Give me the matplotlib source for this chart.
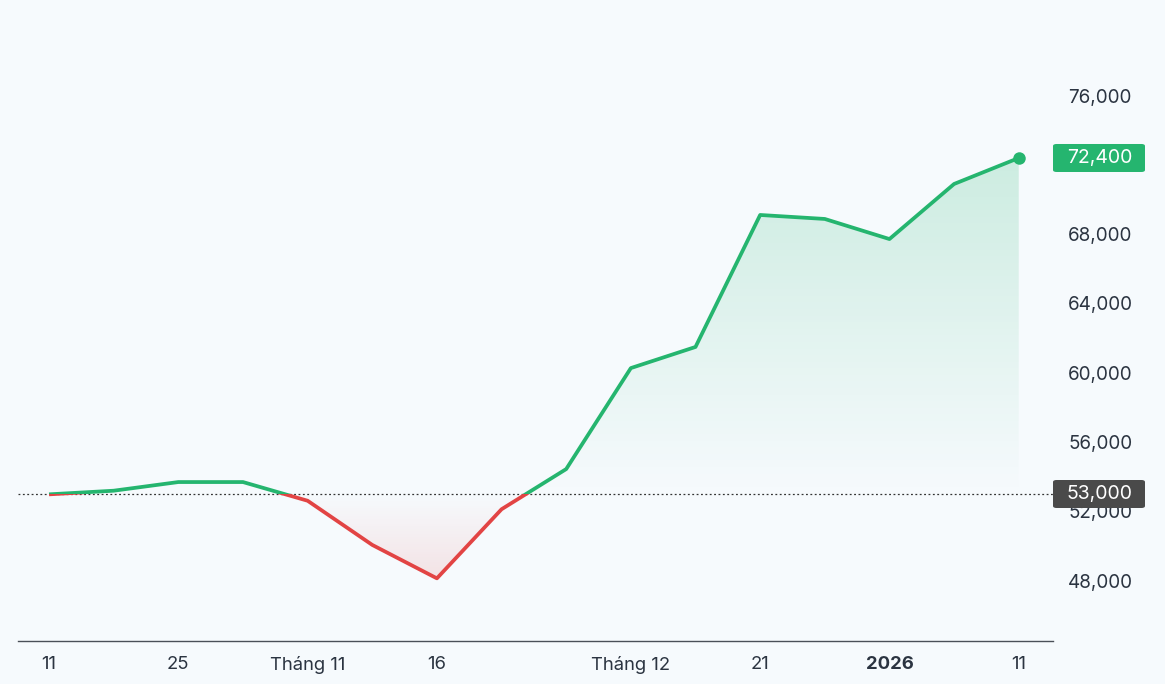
import numpy as np
import matplotlib
matplotlib.use("Agg")
import matplotlib.pyplot as plt
from matplotlib.patches import Rectangle, FancyBboxPatch
from matplotlib.path import Path
from matplotlib.colors import LinearSegmentedColormap

# ---- data ----
values = [52980, 53190, 53690, 53690, 52610, 50060, 48130, 52120, 54440,
          60270, 61490, 69110, 68880, 67720, 70900, 72400]
reference = 53000
tick_pos = [0, 2, 4, 6, 9, 11, 13, 15]
tick_labels = ["11", "25", "Tháng 11", "16", "Tháng 12", "21", "2026", "11"]
y_ticks = [48000, 52000, 56000, 60000, 64000, 68000, 76000]
last_label = "72,400"
ref_label = "53,000"

GREEN = "#25b56f"
RED = "#e24444"
BG = "#f6fafd"
TXT = "#2b3441"

plt.rcParams['font.family'] = ['Inter', 'DejaVu Sans']

W, H = 1165, 684
fig = plt.figure(figsize=(W / 100, H / 100), dpi=100, facecolor=BG)
ax = fig.add_axes([18 / W, (H - 641) / H, (1053 - 18) / W, 641 / H])
ax.set_facecolor(BG)

x = np.arange(len(values))
y = np.array(values, dtype=float)

px_per_unit = 0.01732
ymin = reference - (641 - 494) / px_per_unit
ymax = reference + 494 / px_per_unit


def region_path(mask_above):
    pts = []
    for i in range(len(x) - 1):
        x0, y0, x1, y1 = x[i], y[i], x[i + 1], y[i + 1]
        pts.append((x0, y0))
        if (y0 - reference) * (y1 - reference) < 0:
            t = (reference - y0) / (y1 - y0)
            pts.append((x0 + t * (x1 - x0), reference))
    pts.append((x[-1], y[-1]))
    verts = [(px_, (max(py, reference) if mask_above else min(py, reference)))
             for px_, py in pts]
    verts = [(x[0], reference)] + verts + [(x[-1], reference), (x[0], reference)]
    codes = [Path.MOVETO] + [Path.LINETO] * (len(verts) - 2) + [Path.CLOSEPOLY]
    return Path(verts, codes)


gcm = LinearSegmentedColormap.from_list('g', [(0.145, 0.71, 0.435, 0.0),
                                              (0.145, 0.71, 0.435, 0.2)])
rcm = LinearSegmentedColormap.from_list('r', [(0.886, 0.267, 0.267, 0.0),
                                              (0.886, 0.267, 0.267, 0.13)])
grad = np.linspace(0, 1, 256).reshape(-1, 1)
im_g = ax.imshow(grad, cmap=gcm, aspect='auto', origin='lower',
                 extent=[x[0], x[-1], reference, y.max()], zorder=1,
                 interpolation='bilinear')
im_g.set_clip_path(region_path(True), transform=ax.transData)
im_r = ax.imshow(grad[::-1], cmap=rcm, aspect='auto', origin='lower',
                 extent=[x[0], x[-1], y.min(), reference], zorder=1,
                 interpolation='bilinear')
im_r.set_clip_path(region_path(False), transform=ax.transData)
ax.set_xlim(-0.48, 15.53)
ax.set_ylim(ymin, ymax)

# reference dotted line
ax.axhline(reference, color='#333333', lw=0.9, ls=(0, (1.5, 2)), zorder=2)

# line: green above, red below
lg, = ax.plot(x, y, color=GREEN, lw=2.7, solid_joinstyle='round',
              solid_capstyle='butt', zorder=3)
lr, = ax.plot(x, y, color=RED, lw=2.7, solid_joinstyle='round',
              solid_capstyle='butt', zorder=3)
clip_up = Rectangle((-1, reference), 20, 1e6, transform=ax.transData)
clip_dn = Rectangle((-1, reference - 1e6), 20, 1e6, transform=ax.transData)
lg.set_clip_path(clip_up)
lr.set_clip_path(clip_dn)

ax.plot([x[-1]], [y[-1]], 'o', color=GREEN, ms=9, zorder=4, mec='none',
        clip_on=False)

# axes styling
for s in ['top', 'right', 'left']:
    ax.spines[s].set_visible(False)
ax.spines['bottom'].set_color('#4a5058')
ax.spines['bottom'].set_linewidth(1.0)

ax.set_xticks(tick_pos)
ax.set_xticklabels(tick_labels)
for lbl in ax.get_xticklabels():
    if lbl.get_text() == "2026":
        lbl.set_fontweight('bold')
ax.tick_params(axis='x', length=0, pad=11, labelsize=13.3, colors=TXT)

ax.yaxis.tick_right()
ax.set_yticks(y_ticks)
ax.set_yticklabels([f"{v:,}" for v in y_ticks])
ax.tick_params(axis='y', length=0, pad=11, labelsize=13.6, colors=TXT)


def badge(val, text, color):
    yc = ax.transData.transform((0, val))[1]
    yfig = yc / H
    h = 28 / H
    rect = FancyBboxPatch((1053 / W, yfig - h / 2), 92 / W, h,
                          boxstyle="round,pad=0,rounding_size=0.003",
                          transform=fig.transFigure, facecolor=color,
                          edgecolor='none', zorder=10)
    fig.patches.append(rect)
    fig.text(1100 / W, yfig, text, color='white', fontsize=14,
             ha='center', va='center', zorder=11)


badge(values[-1], last_label, GREEN)
badge(reference, ref_label, "#4a4a4a")

fig.savefig("out.png", dpi=100, facecolor=BG)
